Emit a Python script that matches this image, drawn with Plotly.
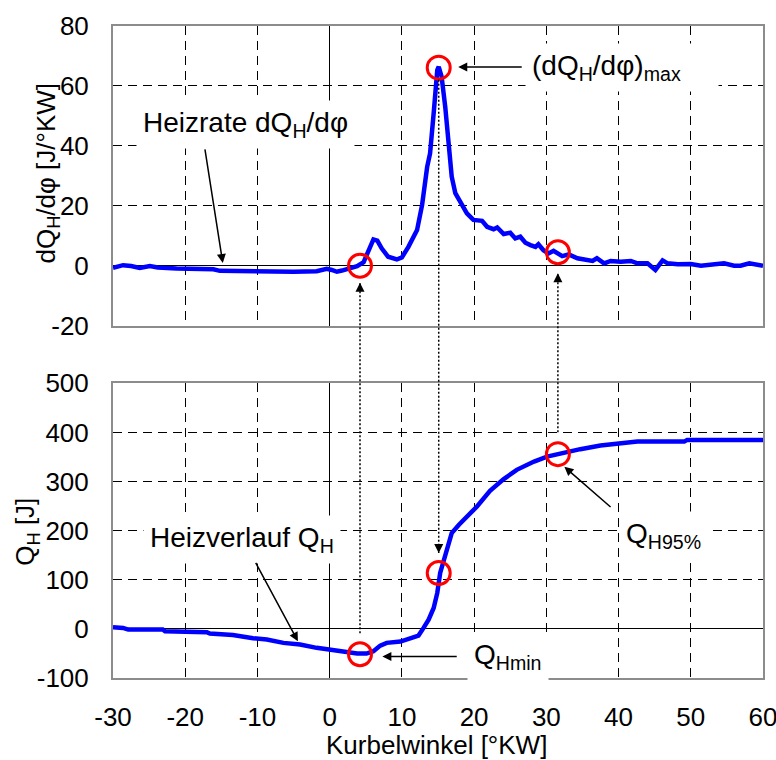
import plotly.graph_objects as go

# ---------------- data ----------------
angle_rate = [-30, -28.6, -27.5, -26.3, -24.9, -23.8, -21.2, -18, -16.1, -15.2, -12, -9, -5,
              -1.8, -0.4, 0.3, 1.0, 1.7, 2.6, 3.8, 4.7, 5.4, 6.06, 6.6, 7.2, 8.1, 9.3, 10.0,
              10.9, 12.1, 12.8, 13.5, 13.9, 14.4, 14.9, 15.1, 15.5, 16.0, 16.5, 16.9, 17.4,
              18.1, 19.0, 19.9, 21.1, 21.8, 22.7, 23.2, 24.1, 25.0, 25.7, 26.4, 27.1, 27.8,
              28.5, 28.9, 29.6, 30.3, 31.0, 32.2, 33.1, 34.3, 35.7, 36.4, 37.0, 38.0, 38.9,
              40.3, 41.7, 42.6, 44.0, 44.4, 45.1, 46.1, 46.8, 48.2, 50.0, 51.4, 53.2, 54.6,
              56.0, 56.9, 58.1, 59.2, 60.0]
heat_rate = [-0.7, 0.2, -0.1, -0.7, -0.1, -0.6, -0.9, -1.1, -1.2, -1.7, -1.9, -2.0, -2.0,
             -1.8, -1.0, -1.4, -2.0, -1.6, -0.9, -0.1, 1.2, 5.0, 8.8, 8.4, 5.8, 3.0, 2.1, 2.8,
             6.3, 11.9, 20.3, 33.0, 37.5, 50.9, 65.3, 66.4, 63.1, 53.1, 42.0, 29.7, 24.2,
             21.4, 17.5, 15.3, 15.0, 13.0, 12.2, 12.8, 10.6, 11.0, 9.1, 9.7, 7.7, 6.9,
             6.3, 7.2, 5.2, 4.1, 5.0, 3.2, 3.8, 2.5, 1.9, 1.6, 2.5, 0.8, 1.6,
             1.3, 1.6, 0.8, 0.8, -0.1, -1.4, 1.8, 0.8, 0.5, 0.6, 0.0, 0.5, 0.8,
             0.0, 0.0, 0.8, 0.2, 0.0]

angle_heat = [-30, -28.6, -27.9, -23.1, -22.8, -20.1, -17.0, -16.6, -13.4, -10.6, -8.7, -6.4,
              -4.1, -1.8, 0.0, 1.9, 3.8, 5.1, 6.06, 7.0, 7.9, 9.8, 11.1, 12.3, 13.0, 13.7,
              14.4, 14.9, 15.3, 15.8, 16.2, 16.9, 17.9, 19.0, 20.4, 22.2, 24.1, 25.9, 28.3,
              30.1, 32.0, 34.7, 37.5, 40.3, 42.6, 49.1, 49.5, 60.0]
heat_release = [3.3, 2.0, -1.4, -1.4, -4.9, -6.1, -6.8, -9.6, -12.3, -19.1, -21.7, -28.5,
                -31.9, -38.6, -42.0, -46.1, -50.2, -50.2, -45.5, -34.0, -28.5, -25.8, -20.3,
                -13.6, 2.0, 18.9, 42.7, 73.2, 113.8, 140.9, 164.6, 195.1, 212.0, 228.9, 249.2,
                281.1, 304.9, 323.8, 340.7, 350.8, 357.7, 365.9, 373.2, 376.6, 381.3, 381.3,
                384.8, 384.8]

# characteristic points (start, max rate, 95 %)
mark_angle = [4.2, 15.1, 31.6]
mark_rate = [0.0, 66.1, 4.5]
mark_heat = [-51.6, 113.8, 355.7]

x_ticks = [-30, -20, -10, 0, 10, 20, 30, 40, 50, 60]
top_ticks = [-20, 0, 20, 40, 60, 80]
bot_ticks = [-100, 0, 100, 200, 300, 400, 500]

# ---------------- layout geometry ----------------
W, H = 776, 760
ML, MR, MT, MB = 113, 13, 26, 82
PW, PH = W - ML - MR, H - MT - MB
TOP_DOM = [1 - (325.7 - MT) / PH, 1.0]
BOT_DOM = [0.0, (H - MB - 383.3) / PH]
TOP_RNG = [-20, 80]
BOT_RNG = [-100, 500]
FONT = "Liberation Sans, Arial, sans-serif"


def top_paper(v, px=0.0):
    return TOP_DOM[0] + (v - TOP_RNG[0]) / (TOP_RNG[1] - TOP_RNG[0]) * (TOP_DOM[1] - TOP_DOM[0]) + px / PH


def bot_paper(v, px=0.0):
    return BOT_DOM[0] + (v - BOT_RNG[0]) / (BOT_RNG[1] - BOT_RNG[0]) * (BOT_DOM[1] - BOT_DOM[0]) + px / PH


def labels(vals):
    return [str(v) for v in vals]   # plain hyphen-minus like the original


fig = go.Figure()
line_style = dict(color="#0000FF", width=4.5)
circ = dict(symbol="circle-open", size=23, color="#FF0000", line=dict(color="#FF0000", width=3))

fig.add_trace(go.Scatter(x=angle_rate, y=heat_rate, mode="lines", line=line_style,
                         xaxis="x", yaxis="y", hoverinfo="skip"))
fig.add_trace(go.Scatter(x=angle_heat, y=heat_release, mode="lines", line=line_style,
                         xaxis="x2", yaxis="y2", hoverinfo="skip"))
fig.add_trace(go.Scatter(x=mark_angle, y=mark_rate, mode="markers", marker=circ,
                         xaxis="x", yaxis="y", hoverinfo="skip"))
fig.add_trace(go.Scatter(x=mark_angle, y=mark_heat, mode="markers", marker=circ,
                         xaxis="x2", yaxis="y2", hoverinfo="skip"))

axis_common = dict(
    showgrid=True, gridcolor="black", gridwidth=1, griddash="9px,6px",
    zeroline=True, zerolinecolor="black", zerolinewidth=1,
    showline=True, mirror=True, linecolor="#8c8c8c", linewidth=2,
    ticks="", tickfont=dict(family=FONT, size=26, color="black"),
    ticklabeloverflow="allow", automargin=False,
)

fig.update_layout(
    width=W, height=H,
    margin=dict(l=ML, r=MR, t=MT, b=MB),
    paper_bgcolor="white", plot_bgcolor="white",
    showlegend=False,
    font=dict(family=FONT, color="black"),
    xaxis=dict(axis_common, domain=[0, 1], anchor="y", range=[-30, 60], tickvals=x_ticks,
               ticktext=labels(x_ticks), showticklabels=False),
    yaxis=dict(axis_common, domain=TOP_DOM, anchor="x", range=TOP_RNG, tickvals=top_ticks,
               ticktext=labels(top_ticks), ticklabelstandoff=17),
    xaxis2=dict(axis_common, domain=[0, 1], anchor="y2", range=[-30, 60], tickvals=x_ticks,
                ticktext=labels(x_ticks), ticklabelstandoff=15),
    yaxis2=dict(axis_common, domain=BOT_DOM, anchor="x2", range=BOT_RNG, tickvals=bot_ticks,
                ticktext=labels(bot_ticks), ticklabelstandoff=17),
)

# ---------------- dotted connection lines with arrowheads ----------------
shapes = []
annots = []
links = [
    (mark_angle[0], bot_paper(mark_heat[0], 21), top_paper(mark_rate[0], -17)),
    (mark_angle[1], top_paper(mark_rate[1], -12), bot_paper(mark_heat[1], 20)),
    (mark_angle[2], bot_paper(mark_heat[2], 22), top_paper(mark_rate[2], -21)),
]
for ang, y0, y1 in links:
    shapes.append(dict(type="line", xref="x", yref="paper", x0=ang, x1=ang, y0=y0, y1=y1,
                       line=dict(color="black", width=1.5, dash="2px,2px"), layer="above"))
    direction = 1 if y1 > y0 else -1
    annots.append(dict(xref="x", yref="paper", x=ang, y=y1, text="", showarrow=True,
                       axref="pixel", ayref="pixel", ax=0, ay=direction * 10,
                       arrowhead=2, arrowsize=1.2, arrowwidth=1.5, arrowcolor="black"))

# ---------------- labels ----------------
lab_font = dict(family=FONT, size=28, color="black")
arrow = dict(showarrow=True, arrowhead=2, arrowsize=1.2, arrowwidth=1.5, arrowcolor="black", text="")
NB = "\u00a0"

annots += [
    dict(xref="x", yref="y", x=-11.7, y=47.3, text="Heizrate dQ<sub>H</sub>/dφ", showarrow=False,
         font=lab_font, bgcolor="white", borderpad=6, xanchor="center", yanchor="middle"),
    dict(arrow, xref="x", yref="y", x=-14.8, y=0.9, axref="x", ayref="y", ax=-17.3, ay=39.3),

    dict(xref="x", yref="y", x=27.0, y=66.2, text="(dQ<sub>H</sub>/dφ)<sub>max</sub>" + NB * 4,
         showarrow=False, font=lab_font, bgcolor="white", borderpad=6, xanchor="left", yanchor="middle"),
    dict(arrow, xref="x", yref="y", x=17.8, y=66.3, axref="x", ayref="y", ax=26.8, ay=66.3),

    dict(xref="x2", yref="y2", x=40.0, y=190, text="Q<sub>H95%</sub>", showarrow=False,
         font=lab_font, bgcolor="white", borderpad=6, xanchor="left", yanchor="middle"),
    dict(arrow, xref="x2", yref="y2", x=32.5, y=330, axref="x2", ayref="y2", ax=39.1, ay=245.5),

    dict(xref="x2", yref="y2", x=19.0, y=-56, text="Q<sub>Hmin</sub>", showarrow=False,
         font=lab_font, bgcolor="white", borderpad=6, xanchor="left", yanchor="middle"),
    dict(arrow, xref="x2", yref="y2", x=7.3, y=-56.3, axref="x2", ayref="y2", ax=17.8, ay=-56.3),

    dict(xref="x2", yref="y2", x=-12.2, y=182, text="Heizverlauf Q<sub>H</sub>", showarrow=False,
         font=lab_font, bgcolor="white", borderpad=6, xanchor="center", yanchor="middle"),
    dict(arrow, xref="x2", yref="y2", x=-4.4, y=-25.2, axref="x2", ayref="y2", ax=-10.35, ay=137.4),

    # axis titles
    dict(xref="paper", yref="paper", x=(47 - ML) / PW, y=(H - MB - 173.5) / PH,
         text="dQ<sub>H</sub>/dφ [J/°KW]", textangle=-90, showarrow=False,
         font=dict(family=FONT, size=26, color="black"), xanchor="center", yanchor="middle"),
    dict(xref="paper", yref="paper", x=(27 - ML) / PW, y=(H - MB - 531.7) / PH,
         text="Q<sub>H</sub> [J]", textangle=-90, showarrow=False,
         font=dict(family=FONT, size=26, color="black"), xanchor="center", yanchor="middle"),
    dict(xref="paper", yref="paper", x=(436.5 - ML) / PW, y=(H - MB - 745) / PH,
         text="Kurbelwinkel [°KW]", showarrow=False,
         font=dict(family=FONT, size=26, color="black"), xanchor="center", yanchor="middle"),
]

fig.update_layout(shapes=shapes, annotations=annots)
fig.write_html("out.html", config={"displayModeBar": False},
               post_script="document.body.style.margin='0';")
